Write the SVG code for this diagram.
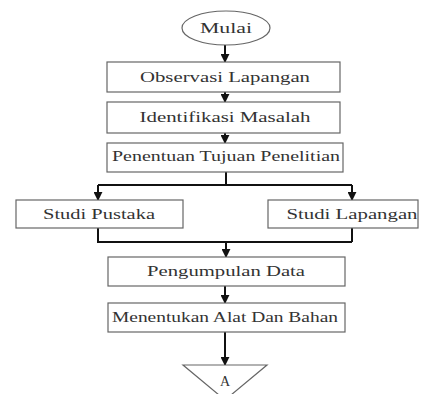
<svg xmlns="http://www.w3.org/2000/svg" width="425" height="394" viewBox="0 0 425 394">
<style>
.box{fill:#fff;stroke:#666;stroke-width:1.2}
.t{font-family:"Liberation Serif","Times New Roman",serif;font-size:14px;fill:#333;text-anchor:middle}
.c{fill:none;stroke:#111;stroke-width:2}
</style>
<defs>
<marker id="ah" viewBox="0 0 10 10" refX="9" refY="5" markerWidth="4.5" markerHeight="4.5" orient="auto">
<path d="M0,0 L10,5 L0,10 z" fill="#111"/>
</marker>
</defs>
<rect width="425" height="394" fill="#fff"/>
<g id="connectors">
<path class="c" d="M225,45 V62" stroke-width="1.2" marker-end="url(#ah)"/>
<path class="c" d="M225,92 V102" marker-end="url(#ah)"/>
<path class="c" d="M225,133 V143" marker-end="url(#ah)"/>
<path class="c" d="M226,172 V185 M98,185 H352"/>
<path class="c" d="M98,185 V200" marker-end="url(#ah)"/>
<path class="c" d="M352,185 V200" marker-end="url(#ah)"/>
<path class="c" d="M98,228 V242 H352 M352,228 V242"/>
<path class="c" d="M226,242 V257" marker-end="url(#ah)"/>
<path class="c" d="M225,286 V303" marker-end="url(#ah)"/>
<path class="c" d="M225,332 V365" marker-end="url(#ah)"/>
</g>
<g id="mulai">
<ellipse class="box" cx="226" cy="28" rx="44" ry="17"/>
<text class="t" x="226" y="33" textLength="52" lengthAdjust="spacingAndGlyphs">Mulai</text>
</g>
<g id="observasi">
<rect class="box" x="107" y="62" width="233" height="30"/>
<text class="t" x="225" y="82" textLength="170" lengthAdjust="spacingAndGlyphs">Observasi Lapangan</text>
</g>
<g id="identifikasi">
<rect class="box" x="107" y="102" width="233" height="31"/>
<text class="t" x="225" y="122" textLength="171" lengthAdjust="spacingAndGlyphs">Identifikasi Masalah</text>
</g>
<g id="penentuan">
<rect class="box" x="107" y="143" width="236" height="29"/>
<text class="t" x="226" y="161" textLength="228" lengthAdjust="spacingAndGlyphs">Penentuan Tujuan Penelitian</text>
</g>
<g id="pustaka">
<rect class="box" x="16" y="200" width="167" height="28"/>
<text class="t" x="99" y="219" textLength="112" lengthAdjust="spacingAndGlyphs">Studi Pustaka</text>
</g>
<g id="lapangan">
<rect class="box" x="268" y="200" width="150" height="28"/>
<text class="t" x="352" y="219" textLength="131" lengthAdjust="spacingAndGlyphs">Studi Lapangan</text>
</g>
<g id="pengumpulan">
<rect class="box" x="108" y="257" width="237" height="29"/>
<text class="t" x="226" y="276" textLength="158" lengthAdjust="spacingAndGlyphs">Pengumpulan Data</text>
</g>
<g id="menentukan">
<rect class="box" x="108" y="303" width="237" height="29"/>
<text class="t" x="225" y="322" textLength="226" lengthAdjust="spacingAndGlyphs">Menentukan Alat Dan Bahan</text>
</g>
<g id="a">
<path class="box" d="M183,365 H267 L225,400 Z"/>
<text class="t" x="225" y="386" font-size="13">A</text>
</g>
</svg>
